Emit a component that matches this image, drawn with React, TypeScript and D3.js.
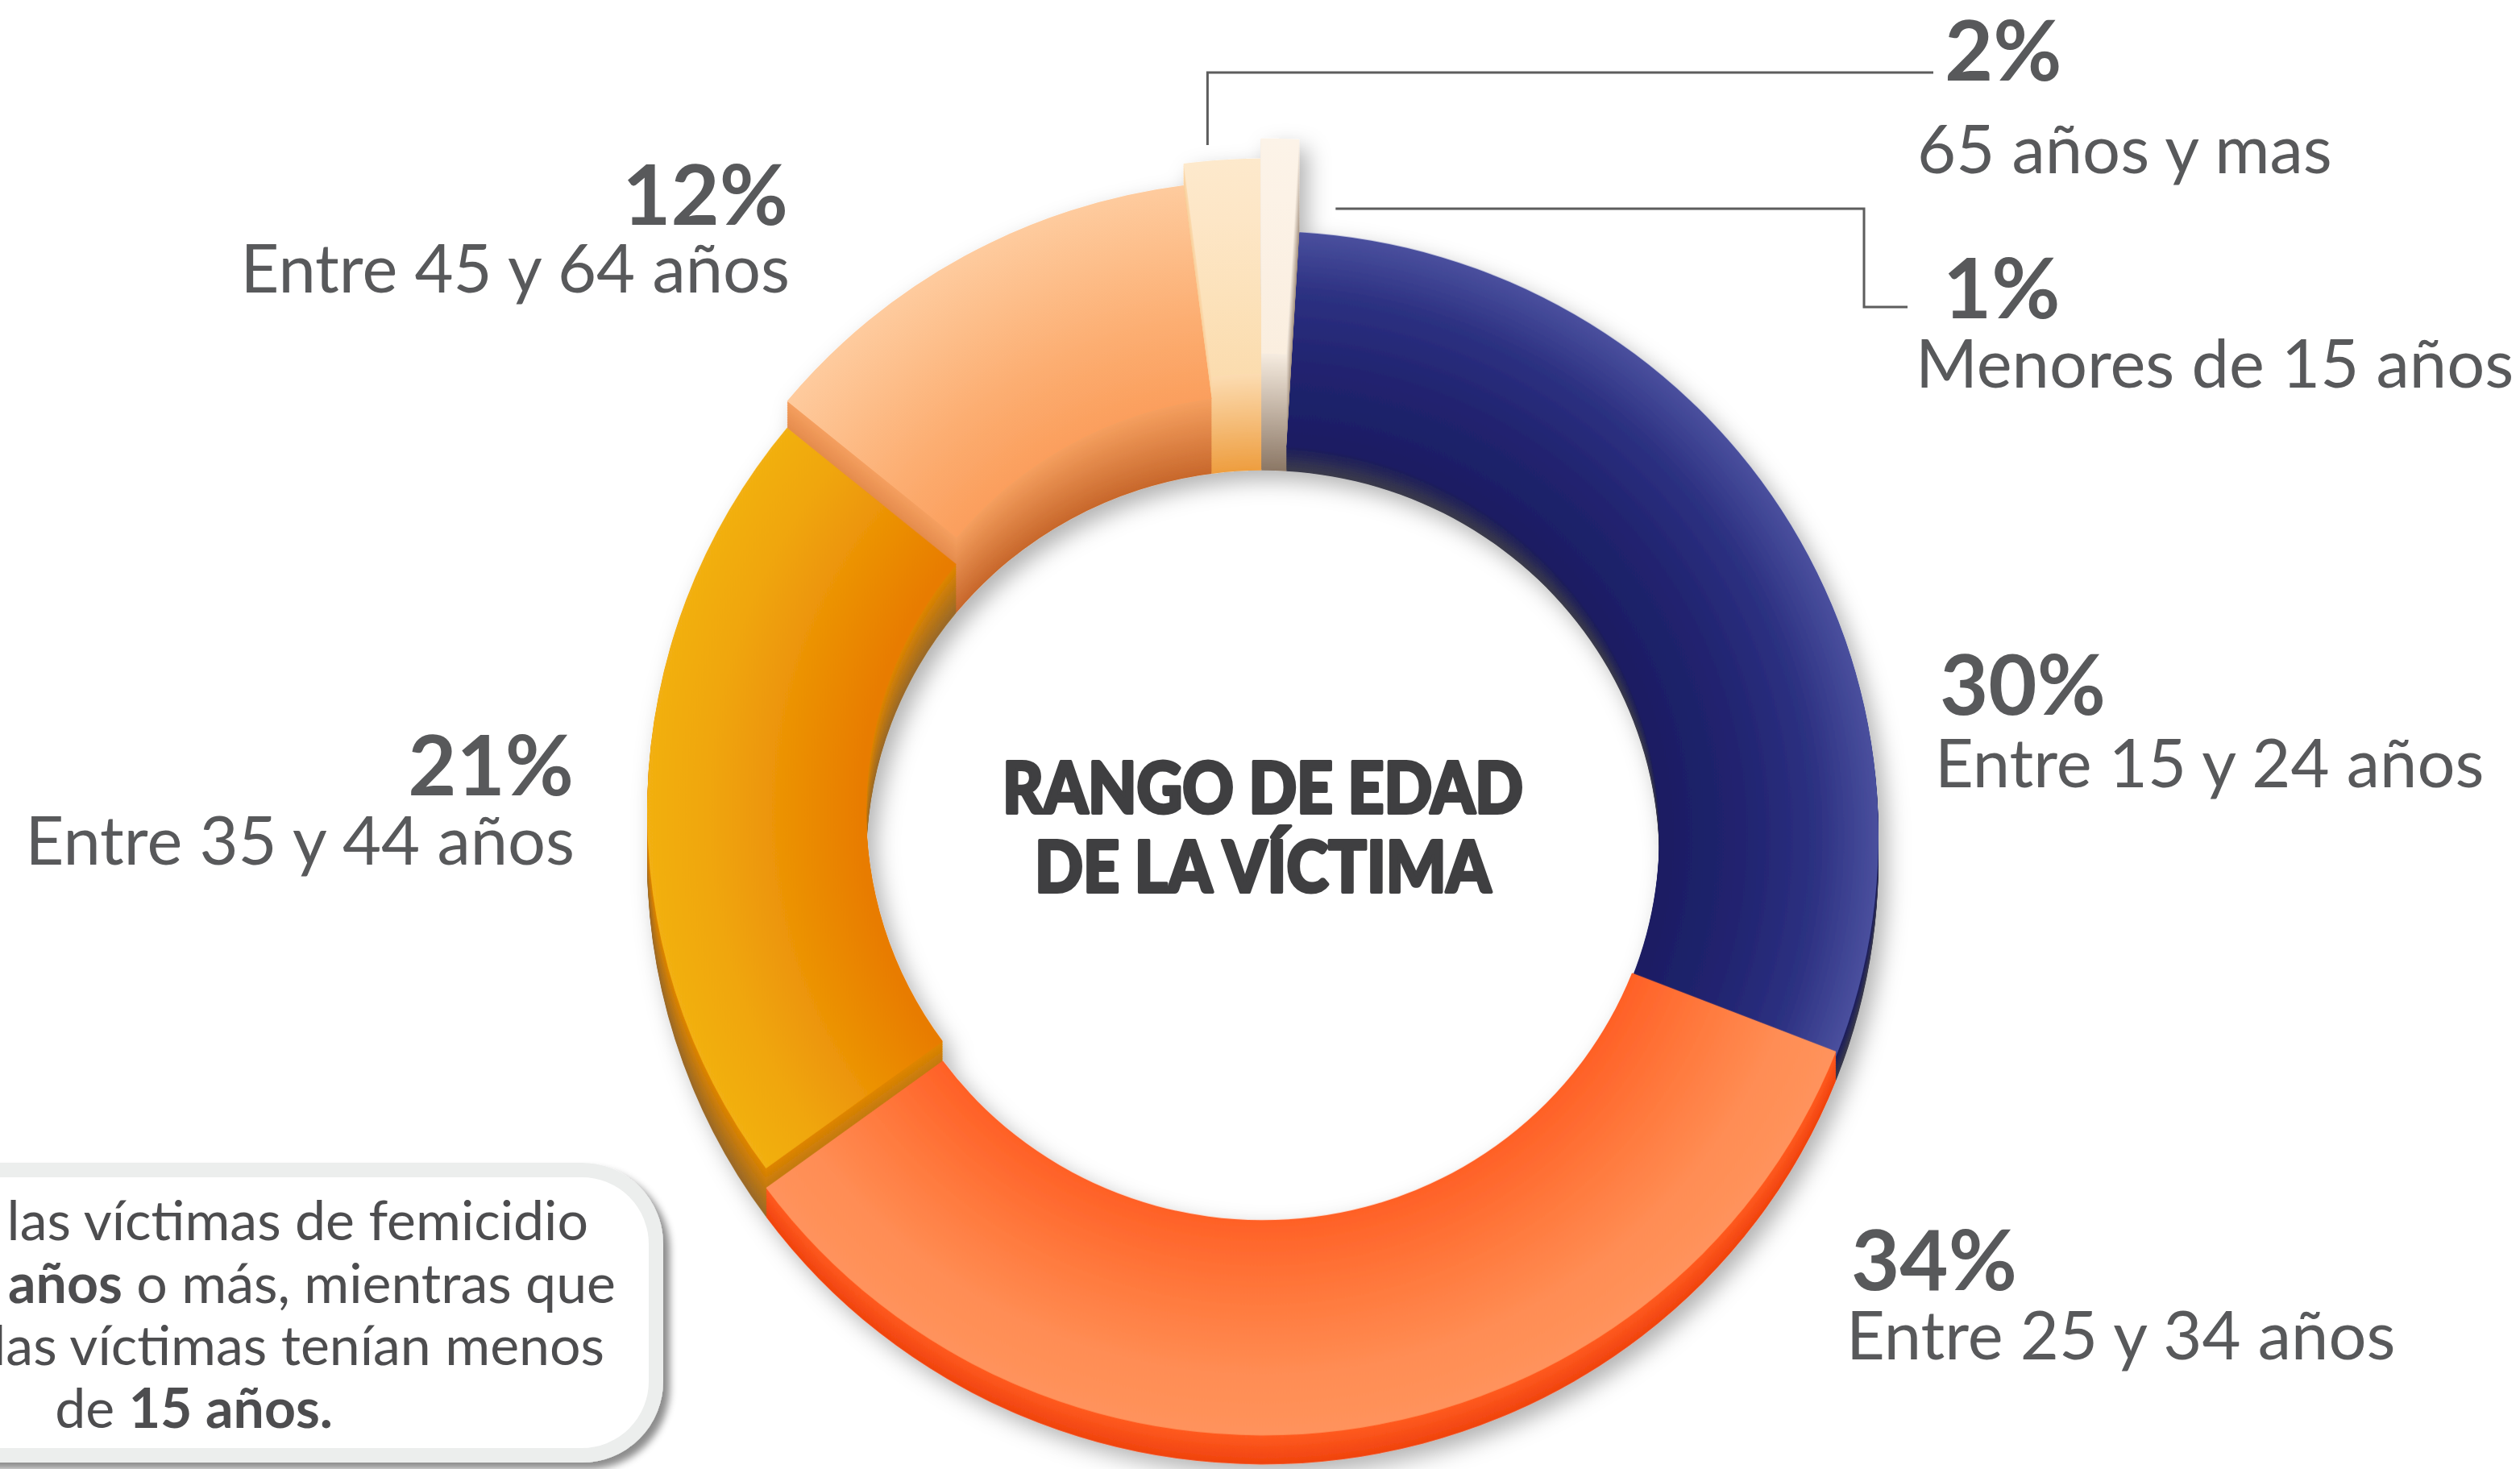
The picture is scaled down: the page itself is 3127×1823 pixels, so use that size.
import React from 'react';
import * as d3 from 'd3';

// --- data ---
const ageGroups = ['Entre 15 y 24 años', 'Entre 25 y 34 años', 'Entre 35 y 44 años', 'Entre 45 y 64 años', '65 años y mas', 'Menores de 15 años'];
const shares = [30, 34, 21, 12, 2, 1];
const noteLines = [
  [{ t: 'El 2% de las víctimas de femicidio', b: false }],
  [{ t: 'tenían ', b: false }, { t: '65 años', b: true }, { t: ' o más, mientras que', b: false }],
  [{ t: 'el 1% de las víctimas tenían menos', b: false }],
  [{ t: 'de ', b: false }, { t: '15 años.', b: true }],
];

// --- styles ---
const faceStops = [0.64, 0.78, 0.9, 1];
const faceColors = [
  ['#1c1d62', '#212470', '#2d3182', '#4a509e'],
  ['#ff6026', '#ff7a3e', '#ff8d54', '#ff935c'],
  ['#e87a00', '#ec9206', '#f0a60c', '#f2b012'],
  ['#fb9e5c', '#fcae72', '#fdbe8a', '#fecb9e'],
  ['#fbdcae', '#fce2bb', '#fde6c6', '#fde9cc'],
  ['#faeedf', '#fbf0e3', '#fcf2e6', '#fcf3e8'],
];
const wallColors = [
  ['#1c1d5e', '#3c3c4c'],
  ['#ff5c22', '#f0440f'],
  ['#e08600', '#9a6a2a'],
  ['#f5a060', '#c8682c'],
  ['#fcdcb2', '#ee9e40'],
  ['#f6ece0', '#8c7866'],
];
const lifts = [0, 6, 30, 63, 90, 115];

// label layout: pct label pos + description pos
const labelLayout = [
  { px: 2407, py: 887, tx: 2401, ty: 977, anchor: 'start' },
  { px: 2297, py: 1601, tx: 2291, ty: 1687, anchor: 'start' },
  { px: 712, py: 987, tx: 713, ty: 1073, anchor: 'end' },
  { px: 978, py: 279, tx: 980, ty: 363, anchor: 'end' },
  { px: 2413, py: 100, tx: 2379, ty: 215, anchor: 'start' },
  { px: 2411, py: 395, tx: 2377, ty: 481, anchor: 'start' },
];
const noteRight = [730, 764, 750, 413];
const noteBase = [1539, 1617, 1694, 1772];

const W = 3127, H = 1823;
const CX = 1567, CY = 1037, R_OUT = 764, R_IN = 492, SQUASH = 0.982, DEPTH = 30, STEP = 1.5;
const START = (3.4 * Math.PI) / 180;
const GREY = '#58595b';
const FONT = 'Lato, "Open Sans", sans-serif';

export default function App() {
  const pie = d3.pie<number>().sort(null).startAngle(START).endAngle(START + 2 * Math.PI);
  const arcs = pie(shares);
  const arcGen = d3.arc<d3.PieArcDatum<number>>().innerRadius(R_IN).outerRadius(R_OUT);

  // extruded layers, painted from lowest to highest
  const layers: { o: number; i: number; top: boolean }[] = [];
  arcs.forEach((a, i) => {
    for (let o = DEPTH; o > -lifts[i]; o -= STEP) layers.push({ o, i, top: false });
    layers.push({ o: -lifts[i], i, top: true });
  });
  layers.sort((a, b) => b.o - a.o || (a.top ? 1 : 0) - (b.top ? 1 : 0));

  const wallFill = (i: number, o: number) => {
    const t = (o + lifts[i]) / (DEPTH + lifts[i]);
    return d3.interpolateRgb(wallColors[i][0], wallColors[i][1])(t);
  };

  // leader line anchors from the slice angles
  const a2 = arcs[4], a1 = arcs[5];
  const mid2 = (a2.startAngle + a2.endAngle) / 2;
  const x2 = CX + R_OUT * Math.sin(mid2) - 18;
  const x1 = CX + R_OUT * Math.sin(a1.endAngle) + 45;

  return (
    <svg width={W} height={H} style={{ position: 'absolute', left: 0, top: 0, display: 'block', background: '#fff' }}>
      <defs>
        {faceColors.map((cs, i) => (
          <radialGradient key={i} id={`face${i}`} gradientUnits="userSpaceOnUse" cx={0} cy={0} r={R_OUT}>
            {cs.map((c, k) => <stop key={k} offset={faceStops[k]} stopColor={c} />)}
          </radialGradient>
        ))}
        <filter id="ringShadow" x="-15%" y="-15%" width="130%" height="130%">
          <feDropShadow dx={10} dy={12} stdDeviation={14} floodColor="#000" floodOpacity={0.3} />
        </filter>
        <filter id="boxShadow" x="-10%" y="-20%" width="120%" height="140%">
          <feDropShadow dx={8} dy={8} stdDeviation={5} floodColor="#000" floodOpacity={0.45} />
        </filter>
      </defs>

      {/* callout box */}
      <rect x={-200} y={1452} width={1014} height={354} rx={92} fill="#fff" stroke="#eceeed" strokeWidth={18} filter="url(#boxShadow)" />
      {noteLines.map((segs, li) => (
        <text key={li} x={noteRight[li]} y={noteBase[li]} textAnchor="end" fontFamily={FONT} fontSize={68} fill="#4d4d4f">
          {segs.map((s, k) => (
            <tspan key={k} fontWeight={s.b ? 700 : 400}>{s.t}</tspan>
          ))}
        </text>
      ))}

      {/* donut */}
      <g transform={`translate(${CX},${CY})`} filter="url(#ringShadow)">
        {layers.map((l, k) => (
          <g key={k} transform={`translate(0,${l.o}) scale(1,${SQUASH})`}>
            <path d={arcGen(arcs[l.i]) || ''} fill={l.top ? `url(#face${l.i})` : wallFill(l.i, l.o)} />
          </g>
        ))}
      </g>

      {/* title */}
      <g fontFamily={FONT} fontWeight={900} fill="#3f3f41" stroke="#3f3f41" strokeWidth={4} strokeLinejoin="round" textAnchor="middle" fontSize={88}>
        <text x={CX} y={1009} textLength={646} lengthAdjust="spacingAndGlyphs">RANGO DE EDAD</text>
        <text x={CX} y={1107} textLength={566} lengthAdjust="spacingAndGlyphs">DE LA VÍCTIMA</text>
      </g>

      {/* leader lines */}
      <g fill="none" stroke="#5d5d5d" strokeWidth={3}>
        <polyline points={`${x2},180 ${x2},90 2399,90`} />
        <polyline points={`${x1},259 2313,259 2313,381 2367,381`} />
      </g>

      {/* labels */}
      {arcs.map((a, i) => {
        const L = labelLayout[i];
        return (
          <g key={i} fontFamily={FONT} fill={GREY} textAnchor={L.anchor}>
            <text x={L.px} y={L.py} fontSize={104} fontWeight={700}>{`${shares[i]}%`}</text>
            <text x={L.tx} y={L.ty} fontSize={83} fontWeight={400}>{ageGroups[i]}</text>
          </g>
        );
      })}
    </svg>
  );
}
